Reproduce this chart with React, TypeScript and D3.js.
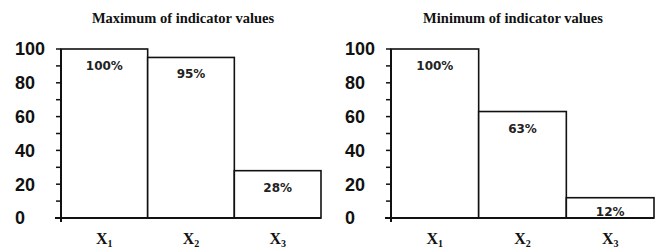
import { useRef, useEffect } from 'react';
import * as d3 from 'd3';

const CATEGORIES = ['1', '2', '3'];
const MAX_VALUES = [100, 95, 28];
const MIN_VALUES = [100, 63, 12];
const Y_TICKS = [0, 20, 40, 60, 80, 100];
const MINOR_TICKS = [0, 10, 20, 30, 40, 50, 60, 70, 80, 90, 100];

const WIDTH = 657;
const HEIGHT = 248;
const Y_TOP = 49;
const Y_BOTTOM = 218;

interface PanelSpec {
  title: string;
  values: number[];
  left: number;
  right: number;
}

const PANELS: PanelSpec[] = [
  { title: 'Maximum of indicator values', values: MAX_VALUES, left: 61, right: 321 },
  { title: 'Minimum of indicator values', values: MIN_VALUES, left: 391, right: 654 },
];

export default function App() {
  const svgRef = useRef<SVGSVGElement>(null);

  useEffect(() => {
    if (!svgRef.current) return;
    const svg = d3.select(svgRef.current);
    svg.selectAll('*').remove();

    svg.append('rect')
      .attr('width', WIDTH)
      .attr('height', HEIGHT)
      .attr('fill', '#fff');

    const yScale = d3.scaleLinear().domain([0, 100]).range([Y_BOTTOM, Y_TOP]);

    PANELS.forEach((panel) => {
      const xScale = d3.scaleBand<string>()
        .domain(CATEGORIES)
        .range([panel.left, panel.right])
        .padding(0);

      const g = svg.append('g');

      // Title
      g.append('text')
        .attr('x', panel.left + 122)
        .attr('y', 23)
        .attr('text-anchor', 'middle')
        .style('font-family', '"Liberation Serif", "Times New Roman", serif')
        .style('font-weight', 'bold')
        .style('font-size', '14.5px')
        .style('fill', '#111')
        .text(panel.title);

      // Bars
      g.selectAll('.bar')
        .data(panel.values)
        .enter()
        .append('rect')
        .attr('class', 'bar')
        .attr('x', (_, i) => xScale(CATEGORIES[i]) ?? 0)
        .attr('y', (d) => yScale(d))
        .attr('width', xScale.bandwidth())
        .attr('height', (d) => Y_BOTTOM - yScale(d))
        .attr('fill', '#fff')
        .attr('stroke', '#111')
        .attr('stroke-width', 1.6);

      // Value labels
      g.selectAll('.bar-label')
        .data(panel.values)
        .enter()
        .append('text')
        .attr('class', 'bar-label')
        .attr('x', (_, i) => (xScale(CATEGORIES[i]) ?? 0) + xScale.bandwidth() / 2)
        .attr('y', (d) => Math.min(yScale(d) + 21, Y_BOTTOM - 2))
        .attr('text-anchor', 'middle')
        .style('font-family', '"DejaVu Sans", Verdana, sans-serif')
        .style('font-weight', 'bold')
        .style('font-size', '12px')
        .style('fill', '#222')
        .text((d) => `${d}%`);

      // Y axis line
      g.append('line')
        .attr('x1', panel.left)
        .attr('x2', panel.left)
        .attr('y1', yScale(100))
        .attr('y2', Y_BOTTOM + 4)
        .attr('stroke', '#111')
        .attr('stroke-width', 2);

      // X axis line
      g.append('line')
        .attr('x1', panel.left - 6)
        .attr('x2', panel.right)
        .attr('y1', Y_BOTTOM)
        .attr('y2', Y_BOTTOM)
        .attr('stroke', '#111')
        .attr('stroke-width', 2);

      // Minor ticks
      g.selectAll('.tick-mark')
        .data(MINOR_TICKS)
        .enter()
        .append('line')
        .attr('class', 'tick-mark')
        .attr('x1', panel.left - 5)
        .attr('x2', panel.left)
        .attr('y1', (d) => yScale(d))
        .attr('y2', (d) => yScale(d))
        .attr('stroke', '#111')
        .attr('stroke-width', 1.5);

      // Tick labels
      g.selectAll('.tick-label')
        .data(Y_TICKS)
        .enter()
        .append('text')
        .attr('class', 'tick-label')
        .attr('x', panel.left - 46)
        .attr('y', (d) => yScale(d))
        .attr('dy', '0.36em')
        .attr('text-anchor', 'start')
        .style('font-family', '"Liberation Sans", Arial, sans-serif')
        .style('font-weight', 'bold')
        .style('font-size', '18px')
        .style('fill', '#111')
        .text((d) => String(d));

      // Category labels (X with subscript)
      const cat = g.selectAll('.cat-label')
        .data(CATEGORIES)
        .enter()
        .append('text')
        .attr('class', 'cat-label')
        .attr('x', (d) => (xScale(d) ?? 0) + xScale.bandwidth() / 2)
        .attr('y', 244)
        .attr('text-anchor', 'middle')
        .style('font-family', '"Liberation Serif", "Times New Roman", serif')
        .style('font-weight', 'bold')
        .style('font-size', '16px')
        .style('fill', '#111');
      cat.append('tspan').text('X');
      cat.append('tspan')
        .attr('dy', 3)
        .style('font-size', '10px')
        .text((d) => d);
    });
  }, []);

  return (
    <svg
      ref={svgRef}
      width={WIDTH}
      height={HEIGHT}
      style={{ position: 'absolute', left: 0, top: 0 }}
    />
  );
}
